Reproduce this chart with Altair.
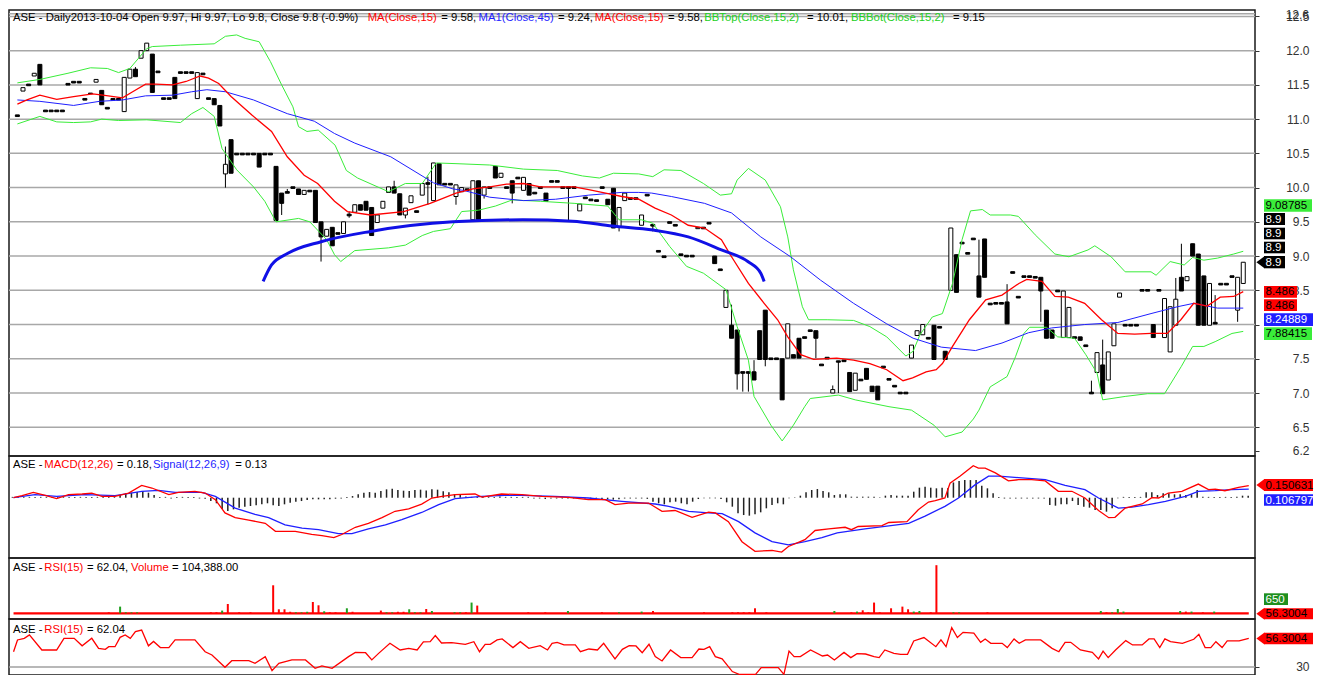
import altair as alt
import pandas as pd

FONT = "Liberation Sans"
X_DOMAIN = [-0.6, 219.2]
W = 1246
H_PRICE, H_MACD, H_VOL, H_RSI = 446, 102, 61, 56

# ---------------- candles (bar index 0..218) ----------------
OPEN = [
    11.05, 11.41, 11.50, 11.63, 11.80, 11.12, 11.12, 11.12, 11.12, 11.51,
    11.54, 11.54, 11.29, 11.38, 11.54, 11.42, 11.16, 11.29, 11.29, 11.11,
    11.60, 11.73, 11.89, 12.00, 11.95, 11.69, 11.30, 11.30, 11.61, 11.68,
    11.68, 11.68, 11.30, 11.66, 11.30, 11.30, 11.20, 10.20, 10.70, 10.49,
    10.49, 10.49, 10.49, 10.50, 10.49, 10.49, 10.31, 9.92, 9.93, 10.00,
    9.98, 9.90, 9.95, 9.96, 9.50, 9.29, 9.42, 9.33, 9.33, 9.60,
    9.64, 9.75, 9.80, 9.71, 9.49, 9.70, 9.93, 10.01, 9.91, 9.60,
    9.78, 9.65, 9.89, 10.06, 9.81, 10.35, 10.05, 10.05, 9.87, 9.94,
    9.97, 9.53, 10.10, 9.89, 10.00, 10.31, 10.15, 10.00, 10.10, 10.14,
    9.96, 10.06, 9.92, 10.00, 9.92, 10.09, 10.09, 10.00, 10.00, 10.00,
    9.66, 9.85, 9.82, 9.81, 10.00, 9.83, 9.99, 9.42, 9.81, 9.84,
    9.84, 9.45, 9.89, 9.45, 9.07, 8.99, 9.49, 9.45, 9.02, 9.00,
    9.00, 9.40, 9.41, 9.48, 9.00, 8.80, 8.25, 7.99, 7.92, 7.30,
    7.30, 7.31, 7.91, 8.21, 7.50, 7.50, 7.50, 7.51, 7.56, 7.80,
    7.81, 7.91, 7.91, 7.41, 7.51, 7.00, 7.47, 7.47, 7.30, 7.04,
    7.19, 7.36, 7.10, 7.10, 7.38, 7.20, 7.10, 7.00, 7.00, 7.51,
    7.84, 7.85, 7.80, 7.99, 7.96, 7.61, 8.50, 9.02, 9.19, 9.04,
    9.25, 8.71, 9.25, 8.30, 8.31, 8.31, 8.33, 8.76, 8.40, 8.70,
    8.70, 8.69, 8.69, 8.21, 7.92, 8.49, 7.81, 7.81, 7.81, 7.82,
    7.69, 7.00, 7.30, 7.41, 7.19, 7.69, 8.40, 7.99, 7.99, 7.99,
    8.50, 8.50, 8.00, 8.50, 7.81, 7.60, 7.99, 8.69, 8.64, 9.18,
    9.03, 8.71, 7.99, 8.02, 8.59, 8.59, 8.70, 8.21, 8.60,
]
CLOSE = [
    11.05, 11.46, 11.50, 11.67, 11.50, 11.12, 11.12, 11.12, 11.12, 11.51,
    11.54, 11.54, 11.29, 11.37, 11.58, 11.21, 11.16, 11.29, 11.29, 11.61,
    11.73, 11.62, 12.00, 12.11, 11.39, 11.69, 11.30, 11.30, 11.30, 11.68,
    11.68, 11.68, 11.68, 11.66, 11.30, 11.21, 10.90, 10.34, 10.21, 10.49,
    10.49, 10.49, 10.49, 10.30, 10.49, 10.49, 9.52, 9.77, 9.93, 10.00,
    9.90, 9.96, 9.95, 9.49, 9.28, 9.39, 9.15, 9.33, 9.50, 9.60,
    9.75, 9.67, 9.67, 9.30, 9.60, 9.80, 10.01, 9.92, 9.60, 9.70,
    9.88, 9.65, 10.06, 10.06, 10.36, 10.04, 10.05, 10.05, 10.04, 10.00,
    9.97, 10.10, 9.53, 10.01, 10.00, 10.14, 10.21, 10.00, 9.92, 10.14,
    10.15, 9.89, 9.92, 10.00, 9.80, 10.09, 10.09, 10.00, 10.00, 10.00,
    9.76, 9.85, 9.82, 9.81, 10.00, 9.75, 9.41, 9.71, 9.92, 9.84,
    9.84, 9.60, 9.89, 9.45, 9.07, 8.99, 9.49, 9.45, 9.02, 9.00,
    9.00, 9.42, 9.41, 9.48, 8.89, 8.80, 8.50, 7.80, 7.28, 7.30,
    7.30, 7.19, 7.49, 7.49, 7.50, 7.50, 6.90, 8.01, 7.51, 7.51,
    7.81, 7.91, 7.80, 7.41, 7.51, 7.05, 7.45, 7.47, 7.02, 7.29,
    7.19, 7.20, 7.02, 6.90, 7.38, 7.20, 7.10, 7.00, 7.00, 7.70,
    7.91, 8.00, 7.80, 7.49, 7.96, 7.49, 9.41, 8.47, 9.19, 9.04,
    9.25, 8.40, 8.69, 8.30, 8.31, 8.31, 8.01, 8.76, 8.40, 8.70,
    8.70, 8.69, 8.49, 7.80, 7.80, 8.49, 8.49, 8.25, 7.81, 7.77,
    7.69, 7.00, 7.59, 6.99, 7.60, 8.01, 8.46, 7.99, 7.99, 7.99,
    8.50, 8.50, 7.81, 8.50, 8.38, 8.26, 8.37, 8.49, 8.70, 9.00,
    7.99, 7.99, 8.60, 8.02, 8.59, 8.59, 8.70, 8.69, 8.91,
]
WICK_HIGH = {21: 11.76, 37: 10.60, 48: 9.98, 59: 9.65, 67: 10.10, 73: 10.16,
             127: 8.29, 131: 7.48, 145: 7.11, 171: 9.24, 176: 8.59, 191: 7.18,
             193: 7.78, 206: 8.68, 207: 9.18, 213: 8.43}
WICK_LOW = {37: 10.00, 47: 9.60, 54: 8.92, 59: 9.56, 69: 9.55, 73: 9.75, 78: 9.75,
            83: 9.84, 88: 9.77, 98: 9.50, 107: 9.36, 113: 9.36, 128: 7.05, 129: 7.02,
            130: 7.02, 133: 7.39, 142: 7.51, 146: 7.00, 182: 8.04, 217: 8.04}

# ---------------- overlay lines (bar index, value) ----------------
MA15 = [(0, 11.22), (1.7, 11.28), (4, 11.35), (7, 11.29), (10, 11.33), (13.4, 11.37), (15.2, 11.35),
        (18.7, 11.31), (20.5, 11.40), (22.8, 11.51), (24.6, 11.51), (27.6, 11.50), (30, 11.55),
        (32.5, 11.63), (34, 11.60), (35.8, 11.52), (38, 11.33), (41.7, 11.06), (45.2, 10.82),
        (48, 10.45), (51, 10.18), (53.4, 10.06), (56.4, 9.80), (58.7, 9.65), (62.8, 9.60),
        (68.7, 9.65), (73.4, 9.77), (75, 9.82), (78, 9.92), (81, 9.98), (84, 10.01), (87, 10.05),
        (90, 10.06), (93, 10.01), (96, 10.01), (99, 10.01), (101.6, 9.97), (104.6, 9.92),
        (107.5, 9.87), (110.5, 9.83), (113.4, 9.70), (116.3, 9.60), (119.3, 9.45), (122.2, 9.41),
        (125.2, 9.24), (127, 8.99), (130, 8.60), (132.8, 8.31), (135.2, 8.07), (137, 7.82),
        (139.3, 7.56), (141.6, 7.49), (145.7, 7.51), (148.7, 7.48), (151.6, 7.43), (154.6, 7.34),
        (157.5, 7.18), (159.2, 7.22), (161.6, 7.31), (163.4, 7.34), (164.5, 7.43), (166.3, 7.68),
        (169.3, 8.07), (172.2, 8.36), (175.1, 8.43), (178.1, 8.60), (179.5, 8.66), (182.2, 8.63),
        (184.5, 8.41), (186.9, 8.40), (189.8, 8.31), (192.8, 8.07), (195.7, 7.87), (198.7, 7.86),
        (201.6, 7.87), (204.5, 7.87), (206.9, 8.07), (209.2, 8.31), (211.6, 8.27), (213.9, 8.40),
        (216.3, 8.41), (218, 8.48)]
MA45 = [(0, 11.28), (4, 11.26), (10, 11.20), (14.6, 11.26), (18.7, 11.28), (22.8, 11.34), (27.6, 11.35),
        (31, 11.40), (33.7, 11.43), (37, 11.40), (42, 11.28), (48, 11.08), (52.8, 10.97), (56.4, 10.79),
        (60, 10.65), (66.4, 10.45), (74, 10.07), (77.5, 9.98), (79.3, 9.96), (84, 9.86), (90, 9.81),
        (95.7, 9.83), (101.6, 9.89), (107.5, 9.93), (110.5, 9.93), (112.8, 9.92), (116.3, 9.87),
        (122.2, 9.77), (127, 9.63), (132.2, 9.28), (137.5, 8.99), (142.8, 8.65), (148.7, 8.31),
        (154.6, 8.01), (159.3, 7.80), (164.3, 7.67), (170.4, 7.62), (175.1, 7.73), (179.8, 7.88),
        (183.9, 7.95), (189.8, 8.00), (195.7, 8.03), (201.6, 8.16), (206.3, 8.26), (209.2, 8.31),
        (213.4, 8.24), (218, 8.24)]
BB_TOP = [(0, 11.53), (4, 11.58), (9, 11.67), (13, 11.75), (16, 11.74), (18, 11.68), (20, 11.74),
          (23, 12.03), (24, 12.06), (29, 12.08), (35, 12.10), (37, 12.21), (39, 12.23), (40.5, 12.18),
          (43, 12.13), (45, 11.84), (47, 11.50), (49, 11.18), (50, 10.89), (51.5, 10.82), (53.5, 10.84),
          (56.5, 10.62), (58.5, 10.25), (60.5, 10.14), (66, 9.94), (69, 10.06), (72, 10.06),
          (74.5, 10.36), (78, 10.35), (84, 10.33), (90, 10.27), (96, 10.25), (100.5, 10.17),
          (103.5, 10.14), (106, 10.21), (110.5, 10.20), (113, 10.16), (115, 10.26), (118, 10.25),
          (122, 10.06), (125, 9.89), (127, 9.91), (128, 10.11), (130, 10.28), (133, 10.11),
          (135.7, 9.72), (137, 9.28), (138, 8.80), (139.6, 8.26), (140.7, 8.07), (144, 8.07),
          (148.7, 8.06), (151.6, 7.97), (154.6, 7.82), (158, 7.54), (159.3, 7.61), (160.5, 7.85),
          (162.7, 8.11), (164.5, 8.16), (166.3, 8.60), (168, 9.24), (169.5, 9.66), (171.6, 9.68),
          (173, 9.60), (176.6, 9.60), (178, 9.58), (181, 9.31), (184.5, 9.03), (187, 8.99),
          (190.4, 9.09), (191.6, 9.15), (194.5, 8.99), (197, 8.77), (201.6, 8.77), (202.5, 8.72),
          (205, 8.92), (207.5, 8.87), (209, 8.98), (211, 8.94), (213.4, 8.97), (216.3, 9.03), (218, 9.07)]
BB_BOT = [(0, 10.93), (4, 11.04), (7, 10.96), (10, 10.95), (13, 10.96), (15, 11.0), (18, 10.98),
          (23, 10.99), (29, 10.95), (31, 11.08), (33, 11.17), (35, 11.04), (36.4, 10.57), (39, 10.26),
          (42, 10.01), (44, 9.80), (46, 9.50), (50, 9.55), (52, 9.50), (55, 9.24), (56.4, 9.02),
          (57.5, 8.92), (60, 9.08), (66, 9.12), (69, 9.16), (72, 9.30), (74, 9.36), (77, 9.40),
          (79, 9.65), (82, 9.67), (85, 9.73), (88, 9.82), (93, 9.80), (99, 9.77), (105, 9.73),
          (107, 9.53), (111, 9.53), (113, 9.48), (116, 9.14), (119, 8.85), (122, 8.75), (126, 8.51),
          (128, 7.97), (130, 7.48), (131, 6.95), (134, 6.53), (136, 6.30), (138, 6.53), (140, 6.80),
          (141, 6.92), (146, 6.97), (149, 6.90), (155, 6.80), (159, 6.75), (163, 6.53), (165, 6.36),
          (168, 6.43), (170, 6.62), (171, 6.75), (173, 7.09), (176, 7.24), (177.5, 7.53), (179, 7.87),
          (180, 7.96), (183, 7.96), (185, 7.82), (188, 7.80), (190, 7.56), (192, 7.29), (193, 6.90),
          (197, 6.95), (201, 6.99), (204, 6.99), (207, 7.39), (209, 7.68), (211, 7.68), (213, 7.75),
          (216, 7.87), (218, 7.90)]
SAUCER = [(43.7, 8.63), (45.2, 8.87), (48.1, 9.04), (54.0, 9.21), (62.8, 9.36), (77.5, 9.50),
          (89.9, 9.53), (98.7, 9.51), (105.8, 9.44), (113.1, 9.38), (119.3, 9.28), (125.2, 9.09),
          (129.9, 8.92), (132.2, 8.75), (132.8, 8.63)]

# ---------------- MACD ----------------
MACD = [(0.2, 0.0), (1.7, 0.025), (3.7, 0.067), (5.8, 0.029), (7.8, -0.0125), (9.9, 0.0375), (12.3, 0.046),
        (14, 0.058), (15.8, 0.017), (18.1, 0.017), (20.5, 0.058), (22.8, 0.154), (24.6, 0.121),
        (27.6, 0.0375), (29.3, 0.067), (32.2, 0.079), (34, 0.058), (35.8, -0.025), (37.5, -0.19),
        (39.3, -0.25), (41.7, -0.28), (44.6, -0.32), (46.4, -0.42), (49.9, -0.42), (52.8, -0.46),
        (54.6, -0.475), (56.7, -0.50), (58.1, -0.46), (60.5, -0.37), (62.8, -0.32), (65.2, -0.25),
        (67.5, -0.17), (69.9, -0.14), (72.2, -0.08), (74, -0.004), (75.8, 0.017), (78.1, 0.0375),
        (81.6, 0.046), (82.8, 0.008), (86.3, 0.046), (89.9, 0.0375), (93.4, 0.017), (98.1, 0.004),
        (101.6, -0.025), (104.6, -0.025), (106.3, -0.0875), (108.7, -0.067), (112.2, -0.067),
        (114.6, -0.17), (116.9, -0.16), (119.9, -0.245), (122.8, -0.18), (124, -0.19), (126.3, -0.30),
        (128.7, -0.55), (131, -0.67), (134, -0.66), (135.7, -0.68), (136.9, -0.61), (139.8, -0.525),
        (141.6, -0.41), (144, -0.39), (146.9, -0.37), (148, -0.40), (149.2, -0.36), (153.4, -0.35),
        (154.6, -0.31), (157.8, -0.30), (159.8, -0.15), (161.6, -0.054), (162.8, -0.037),
        (164.5, -0.004), (165.4, 0.18), (167.2, 0.27), (169.5, 0.40), (170.4, 0.37), (171.6, 0.37),
        (173.4, 0.31), (175.7, 0.21), (177.5, 0.225), (179.8, 0.225), (182.2, 0.21), (184.5, 0.08),
        (186.9, 0.08), (189.2, -0.004), (191.6, -0.16), (193.4, -0.25), (194.5, -0.245),
        (196.3, -0.13), (199.3, -0.079), (201, 0.0), (202.2, -0.004), (203.9, 0.058), (206.3, 0.079),
        (209.2, 0.17), (211, 0.10), (212.2, 0.108), (213.9, 0.087), (216.3, 0.129), (218.1, 0.15)]
SIGNAL = [(0.2, 0.0), (4, 0.0375), (7.8, 0.017), (12.8, 0.0375), (18.1, 0.025), (22.8, 0.079), (25.8, 0.092),
          (28.7, 0.067), (33.4, 0.067), (35.8, 0.017), (39.3, -0.13), (42.8, -0.21), (45.2, -0.25),
          (48.1, -0.34), (51.1, -0.38), (54, -0.40), (57.5, -0.45), (59.9, -0.45), (62.8, -0.39),
          (65.8, -0.34), (68.7, -0.275), (72.2, -0.185), (75.2, -0.0875), (78.1, -0.012), (82.8, 0.017),
          (86.9, 0.029), (89.9, 0.029), (95.7, 0.017), (101.6, -0.004), (107.5, -0.046), (113.4, -0.079),
          (115.8, -0.11), (119.3, -0.17), (122.8, -0.19), (125.2, -0.20), (128.1, -0.30), (131, -0.44),
          (134, -0.55), (136.9, -0.59), (139.8, -0.55), (142.8, -0.50), (145.5, -0.44), (150.4, -0.39),
          (158.1, -0.32), (161, -0.23), (164.5, -0.108), (166.9, -0.004), (169.8, 0.16), (172.2, 0.27),
          (174, 0.27), (177.5, 0.25), (182.2, 0.225), (185.7, 0.154), (189.2, 0.10), (191.6, -0.004),
          (195.1, -0.13), (197.5, -0.117), (200.4, -0.087), (203.4, -0.046), (206.9, 0.017),
          (209.2, 0.079), (212.2, 0.087), (215.1, 0.10), (218.1, 0.107)]
HIST = [
    0.01, 0.01, 0.01, 0.01, 0.01, 0.01, 0.01, 0.01, 0.01, 0.01,
    0.01, 0.01, 0.01, 0.01, 0.01, 0.01, 0.01, 0.01, 0.01, 0.033,
    0.054, 0.0625, 0.07, 0.083, 0.0625, 0.033, 0.01, 0.01, -0.01, 0.01,
    0.01, 0.01, 0.01, -0.01, -0.0125, -0.04, -0.07, -0.14, -0.167, -0.146,
    -0.125, -0.1125, -0.104, -0.096, -0.083, -0.07, -0.096, -0.104, -0.083, -0.0625,
    -0.05, -0.042, -0.029, -0.021, -0.021, -0.021, -0.021, -0.0125, -0.01, 0.01,
    0.02, 0.042, 0.0625, 0.07, 0.0625, 0.083, 0.104, 0.1125, 0.096, 0.0875,
    0.083, 0.096, 0.10, 0.09, 0.105, 0.10, 0.08, 0.067, 0.045, 0.033,
    0.015, 0.01, 0.01, 0.01, 0.01, 0.01, 0.015, 0.01, 0.01, 0.01,
    0.01, 0.01, -0.01, -0.01, -0.017, -0.01, -0.01, -0.01, -0.01, -0.01,
    -0.01, -0.01, -0.01, -0.01, -0.02, -0.02, -0.025, -0.02, -0.01, -0.01,
    -0.01, -0.01, -0.015, -0.05, -0.07, -0.083, -0.058, -0.05, -0.07, -0.083,
    -0.05, -0.017, -0.008, -0.008, -0.008, -0.017, -0.058, -0.1125, -0.196, -0.217,
    -0.225, -0.208, -0.183, -0.133, -0.092, -0.07, -0.083, -0.008, 0.005, 0.025,
    0.067, 0.096, 0.108, 0.083, 0.067, 0.033, 0.042, 0.042, 0.0125, 0.0125,
    0.0125, 0.0125, 0.0125, 0.005, 0.025, 0.033, 0.025, 0.025, 0.025, 0.075,
    0.125, 0.1375, 0.125, 0.117, 0.125, 0.117, 0.19, 0.208, 0.22, 0.22,
    0.22, 0.15, 0.117, 0.054, 0.01, -0.01, -0.01, -0.01, -0.01, -0.01,
    -0.01, -0.01, -0.01, -0.092, -0.1, -0.083, -0.083, -0.042, -0.092, -0.1125,
    -0.125, -0.154, -0.154, -0.175, -0.133, -0.008, 0.01, 0.01, 0.01, 0.01,
    0.067, 0.067, 0.033, 0.054, 0.054, 0.042, 0.042, 0.033, 0.042, 0.096,
    0.0125, 0.01, 0.01, 0.01, 0.01, 0.01, 0.0125, 0.025, 0.025,
]

# ---------------- RSI and volume ----------------
RSI = [(0.2, 44.0), (0.9, 54.8), (2.1, 56.3), (3, 59.4), (5.2, 45.6), (7.8, 45.6), (9.1, 56.3), (10.9, 56.3),
       (12.3, 49.4), (14, 56.3), (15.2, 47.1), (16.4, 46.2), (17, 48.6), (18.1, 48.6), (19, 57.2), (19.9, 59.4),
       (20.8, 56.3), (21.7, 62.4), (22.8, 63.9), (24, 49.4), (24.9, 53.4), (26.1, 47.8), (27.6, 47.8),
       (28.7, 54.8), (32.2, 54.8), (34, 44.0), (35.2, 41.0), (37.5, 29.7), (38.7, 35.8), (41.7, 35.8),
       (42.8, 33.4), (44.6, 39.5), (45.8, 26.7), (47, 33.4), (49.3, 36.5), (51.7, 36.5), (53.4, 28.8),
       (54.6, 31.0), (56.4, 28.8), (59.3, 39.5), (60.5, 43.4), (62.3, 43.1), (63.4, 36.5), (64.6, 42.5),
       (66.6, 51.7), (68.4, 45.6), (69.9, 47.1), (71.4, 45.6), (72.5, 53.0), (73.7, 53.3), (74.6, 58.8),
       (75.7, 52.0), (77.5, 52.4), (79.9, 50.8), (81.4, 53.2), (82.4, 44.0), (83.4, 50.8), (84.3, 50.8),
       (85.5, 54.8), (86.4, 55.7), (88.3, 47.8), (89.6, 53.2), (91.1, 47.1), (93.1, 49.6), (94.4, 45.6),
       (95.2, 51.7), (96.1, 52.6), (97.3, 50.2), (99.3, 50.2), (100.2, 44.0), (101.7, 46.5), (103.2, 45.6),
       (104.3, 51.7), (106.3, 37.4), (107.6, 46.2), (108.8, 49.6), (110, 49.3), (111.1, 43.1), (112.3, 50.8),
       (113.4, 39.5), (114.6, 35.5), (116.1, 45.6), (117.9, 38.6), (119.9, 38.6), (121.1, 46.5), (122, 46.2),
       (123, 48.6), (124, 39.5), (125.2, 37.4), (127, 25.8), (128.2, 23.3), (131.1, 23.3), (132.1, 29.4),
       (135.1, 29.4), (136.1, 23.3), (137, 44.6), (137.9, 39.5), (139, 39.5), (140.8, 45.6), (142.9, 40.1),
       (143.8, 41.0), (145, 36.5), (146.7, 43.4), (147.9, 38.6), (149, 42.2), (150.5, 41.9), (152, 39.5),
       (152.9, 38.6), (153.9, 45.6), (155.5, 42.5), (156.7, 41.6), (157.9, 41.6), (159, 53.9), (160.8, 57.0),
       (162.9, 48.6), (163.8, 54.8), (164.7, 48.6), (165.7, 66.1), (166.7, 57.0), (167.7, 61.8),
       (169.6, 61.0), (170.8, 52.6), (171.6, 55.7), (172.6, 51.7), (174.6, 51.7), (175.5, 47.8),
       (176.7, 55.7), (177.6, 51.7), (178.7, 54.8), (181.4, 54.8), (183.4, 47.1), (184.6, 44.0),
       (185.7, 52.6), (186.7, 52.6), (188.4, 45.6), (190.5, 43.4), (191.6, 37.4), (192.4, 44.6),
       (193.3, 38.6), (194.6, 45.6), (196.4, 54.2), (197.6, 50.2), (199.3, 50.2), (200.5, 55.7),
       (201.4, 55.7), (202.4, 47.8), (203.3, 55.7), (204.3, 53.2), (206.4, 51.7), (208.4, 55.4),
       (209.3, 60.0), (210.4, 47.8), (211.4, 47.8), (212.3, 53.2), (213.4, 47.8), (214.3, 53.9),
       (216.4, 53.9), (218.1, 56.3)]
VOLUME = {17: (21000, "down"), 19: (140000, "up"), 20: (21000, "up"), 21: (21000, "up"), 22: (21000, "up"),
          35: (21000, "down"), 36: (21000, "down"), 37: (57000, "up"), 38: (195000, "down"),
          40: (21000, "down"), 42: (21000, "down"), 46: (588000, "down"), 47: (84000, "down"),
          48: (84000, "down"), 49: (32000, "down"), 50: (21000, "up"), 51: (21000, "up"), 52: (32000, "up"),
          53: (237000, "down"), 54: (168000, "down"), 55: (42000, "up"), 56: (21000, "down"),
          57: (21000, "down"), 59: (105000, "up"), 60: (32000, "down"), 65: (57000, "down"),
          66: (21000, "up"), 67: (21000, "up"), 68: (32000, "down"), 69: (32000, "down"), 70: (84000, "up"),
          71: (21000, "up"), 72: (21000, "up"), 73: (90000, "down"), 74: (48000, "up"), 78: (21000, "up"),
          79: (21000, "up"), 80: (21000, "down"), 81: (225000, "up"), 82: (162000, "down"),
          91: (21000, "down"), 94: (21000, "down"), 98: (48000, "up"), 104: (21000, "down"),
          107: (21000, "up"), 111: (36000, "up"), 113: (48000, "down"), 122: (21000, "down"),
          127: (21000, "down"), 128: (21000, "down"), 129: (21000, "down"), 130: (21000, "down"),
          131: (105000, "down"), 133: (21000, "down"), 145: (48000, "up"), 148: (21000, "down"),
          149: (36000, "up"), 150: (63000, "down"), 151: (21000, "down"), 152: (225000, "down"),
          153: (21000, "down"), 155: (105000, "down"), 157: (140000, "down"), 158: (84000, "down"),
          159: (36000, "up"), 160: (48000, "up"), 162: (21000, "down"), 163: (1010000, "down"),
          166: (21000, "up"), 167: (21000, "up"), 172: (21000, "down"), 192: (48000, "up"),
          193: (21000, "down"), 194: (21000, "up"), 195: (90000, "up"), 196: (36000, "up"),
          206: (48000, "up"), 207: (36000, "down"), 208: (36000, "up"), 210: (21000, "down"),
          212: (36000, "up")}

PRICE_TICKS = [6.16, 6.5, 7.0, 7.5, 8.0, 8.5, 9.0, 9.5, 10.0, 10.5, 11.0, 11.5, 12.0, 12.5]
PRICE_GRID = [6.5, 7.0, 7.5, 8.0, 8.5, 9.0, 9.5, 10.0, 10.5, 11.0, 11.5, 12.0, 12.5, 12.54]

RED, BLUE, GREEN = "#ff0000", "#1f1fff", "#3aed3a"
TXT_GREEN = "#22d022"

assert len(OPEN) == len(CLOSE) == len(HIST) == 219

xs = alt.Scale(domain=X_DOMAIN, nice=False, zero=False)
XI = alt.X("i:Q", scale=xs, axis=None)


def series_df(pairs):
    return pd.DataFrame(pairs, columns=["i", "v"])


def line(pairs, scale, color, width=1.0, interp="linear", axis=None):
    return alt.Chart(series_df(pairs)).mark_line(color=color, strokeWidth=width, interpolate=interp).encode(
        x=XI, y=alt.Y("v:Q", scale=scale, axis=axis))


def texts(segments, y, size=11.3):
    out = []
    for x, s, col in segments:
        out.append(alt.Chart(pd.DataFrame({"t": [s]})).mark_text(
            align="left", baseline="alphabetic", font=FONT, fontSize=size, color=col).encode(
            x=alt.value(x), y=alt.value(y), text="t:N"))
    return out


ARROW = "M0,-1L0,1L-1.35,0Z"


def box(x0, x1, y0, y1, bg, fg, s, arrow=False):
    d = pd.DataFrame({"t": [s]})
    base = alt.Chart(d)
    mid = (y0 + y1) / 2
    out = [base.mark_rect(color=bg).encode(x=alt.value(x0), x2=alt.value(x1), y=alt.value(y0), y2=alt.value(y1)),
           base.mark_text(align="left", baseline="middle", font=FONT, fontSize=11.5, color=fg).encode(
               x=alt.value(x0 + 1.5), y=alt.value(mid + 0.5), text="t:N")]
    if arrow:
        out.append(base.mark_point(shape=ARROW, filled=True, size=144, color=bg, opacity=1, strokeWidth=0).encode(
            x=alt.value(x0 + 0.5), y=alt.value(mid)))
    return out


def right_axis(values, fmt, label_expr=None):
    kw = dict(orient="right", values=values, format=fmt, grid=False, domain=False,
              tickSize=4, tickColor="#333", tickWidth=1, labelAlign="right", labelPadding=50,
              labelFontSize=12, labelFont=FONT, labelColor="#333", labelOverlap=False,
              labelBaseline="middle", title=None)
    if label_expr:
        kw["labelExpr"] = label_expr
    return alt.Axis(**kw)


# ---------------- price panel ----------------
ps = alt.Scale(domain=[6.08, 12.594], nice=False, zero=False)
# the 8.0 label sits underneath the 8.24889 / 7.88415 value boxes in the reference
PAX = right_axis(PRICE_TICKS, ".1f", "datum.value == 8 ? '' : datum.label")
rows = []
for i, (o, c) in enumerate(zip(OPEN, CLOSE)):
    hi = max(o, c, WICK_HIGH.get(i, 0))
    lo = min(o, c, WICK_LOW.get(i, 99))
    if abs(o - c) < 1e-9:
        b0, b1, fill = c - 0.012, c + 0.012, "black"
    else:
        b0, b1 = min(o, c), max(o, c)
        fill = "white" if c > o else "black"
    rows.append({"i": i, "hi": hi, "lo": lo, "b0": b0, "b1": b1, "fill": fill})
cdf = pd.DataFrame(rows)

grid = alt.Chart(pd.DataFrame({"v": PRICE_GRID})).mark_rule(color="#a8a8a8", strokeWidth=1.5).encode(
    y=alt.Y("v:Q", scale=ps, axis=PAX))
wicks = alt.Chart(cdf).mark_rule(color="black", strokeWidth=1).encode(
    x=XI, y=alt.Y("lo:Q", scale=ps, axis=PAX), y2="hi:Q")
bodies = alt.Chart(cdf).mark_bar(size=4, stroke="black", strokeWidth=1).encode(
    x=XI, y=alt.Y("b0:Q", scale=ps, axis=PAX), y2="b1:Q", fill=alt.Fill("fill:N", scale=None))

top_label = alt.Chart(pd.DataFrame({"t": ["12.6"]})).mark_text(
    align="right", baseline="middle", font=FONT, fontSize=12, color="#333").encode(
    x=alt.value(1300), y=alt.value(5), text="t:N")

main_title = texts([
    (4, "ASE - Daily2013-10-04 Open 9.97, Hi 9.97, Lo 9.8, Close 9.8 (-0.9%)", "black"),
    (358.7, "MA(Close,15)", RED), (432.3, "= 9.58,", "black"),
    (469.5, "MA1(Close,45)", BLUE), (549, "= 9.24,", "black"),
    (585.7, "MA(Close,15)", RED), (659, "= 9.58,", "black"),
    (695.3, "BBTop(Close,15,2)", TXT_GREEN), (798, "= 10.01,", "black"),
    (842, "BBBot(Close,15,2)", TXT_GREEN), (944, "= 9.15", "black"),
], 11)

price_boxes = (box(1255, 1303, 189.3, 201.7, GREEN, "black", "9.08785")
               + box(1255, 1276, 203, 215, "black", "white", "8.9")
               + box(1255, 1276, 217.7, 229.3, "black", "white", "8.9")
               + box(1255, 1276, 231.7, 243.3, "black", "white", "8.9")
               + box(1255, 1276, 246, 258.3, "black", "white", "8.9", arrow=True)
               + box(1255, 1288, 276, 287.7, RED, "black", "8.486")
               + box(1255, 1288, 289.3, 301, RED, "black", "8.486")
               + box(1255, 1304, 303.3, 316, BLUE, "white", "8.24889")
               + box(1255, 1303, 317.3, 330, GREEN, "black", "7.88415"))

price = alt.layer(
    grid, wicks, bodies,
    line(BB_TOP, ps, GREEN, axis=PAX), line(BB_BOT, ps, GREEN, axis=PAX),
    line(MA45, ps, BLUE, 1.0, axis=PAX), line(MA15, ps, RED, 1.3, axis=PAX),
    line(SAUCER, ps, "#1010e6", 3.0, "monotone", axis=PAX),
    top_label, *main_title, *price_boxes,
).properties(width=W, height=H_PRICE)

# ---------------- MACD panel ----------------
ms = alt.Scale(domain=[-0.754, 0.521], nice=False, zero=False)
hdf = pd.DataFrame({"i": list(range(len(HIST))), "h": HIST, "z": [0.0] * len(HIST)})
hist = alt.Chart(hdf).mark_rule(color="#222", strokeWidth=1.5).encode(
    x=XI, y=alt.Y("z:Q", scale=ms, axis=None), y2="h:Q")
macd_title = texts([(4, "ASE -", "black"), (35.3, "MACD(12,26)", RED), (108, "= 0.18,", "black"),
                    (144, "Signal(12,26,9)", BLUE), (226.3, "= 0.13", "black")], 12)
macd_boxes = (box(1255, 1304, 23, 35, RED, "black", "0.150631", arrow=True)
              + box(1255, 1304, 38.3, 49.7, BLUE, "white", "0.106797"))
macd = alt.layer(hist, line(SIGNAL, ms, BLUE, 1.3), line(MACD, ms, RED, 1.3),
                 *macd_title, *macd_boxes).properties(width=W, height=H_MACD)

# ---------------- RSI + volume panel ----------------
vs = alt.Scale(domain=[-120000, 1161000], nice=False, zero=False)
vdf = pd.DataFrame([{"i": k, "v": v, "z": 0, "col": ("#1f9f1f" if d == "up" else RED)}
                    for k, (v, d) in VOLUME.items()])
rsi_flat = line(RSI, vs, RED, 2.2)
vbars = alt.Chart(vdf).mark_rule(strokeWidth=2).encode(
    x=XI, y=alt.Y("z:Q", scale=vs, axis=None), y2="v:Q", color=alt.Color("col:N", scale=None))
vol_title = texts([(4, "ASE -", "black"), (35.3, "RSI(15)", RED), (78, "= 62.04,", "black"),
                   (122, "Volume", RED), (163, "= 104,388.00", "black")], 12.7)
vol_boxes = (box(1255, 1279, 35.3, 47, "#1e8f1e", "white", "650")
             + box(1255, 1304, 50.3, 61.3, RED, "black", "56.3004", arrow=True))
volume = alt.layer(rsi_flat, vbars, *vol_title, *vol_boxes).properties(width=W, height=H_VOL)

# ---------------- RSI panel ----------------
rs = alt.Scale(domain=[22.66, 74.0], nice=False, zero=False)
RAX = right_axis([30], "d")
rgrid = alt.Chart(pd.DataFrame({"v": [30]})).mark_rule(color="#a0a0a0", strokeWidth=1.5).encode(
    y=alt.Y("v:Q", scale=rs, axis=RAX))
rsi_title = texts([(4, "ASE -", "black"), (35.3, "RSI(15)", RED), (78, "= 62.04", "black")], 13.5)
rsi_boxes = box(1255, 1304, 13.7, 25.3, RED, "black", "56.3004", arrow=True)
rsi = alt.layer(rgrid, line(RSI, rs, RED, 1.3, axis=RAX), *rsi_title, *rsi_boxes).properties(
    width=W, height=H_RSI)

chart = alt.vconcat(price, macd, volume, rsi, spacing=0, bounds="flush").properties(
    padding={"left": 7, "top": 8, "right": 0, "bottom": 0},
    background="white",
).configure_view(stroke="#1a1a1a", strokeWidth=1.5)

chart.save("out.html", embed_options={"renderer": "svg", "actions": False})
